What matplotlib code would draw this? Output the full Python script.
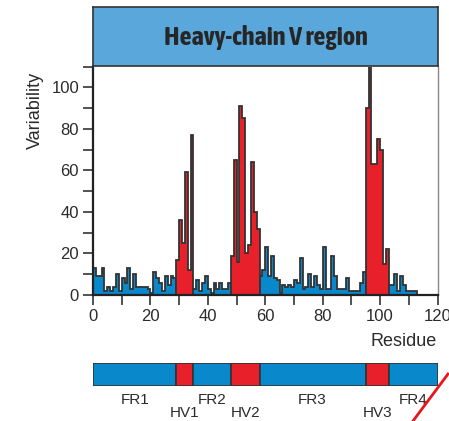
import matplotlib
matplotlib.use("Agg")
import matplotlib.pyplot as plt
from matplotlib import font_manager
import numpy as np
from matplotlib.lines import Line2D

# variability per residue (bins of width 1 starting at residue 0)
variability = [13, 9, 9, 13, 2, 4, 2, 4, 10, 2, 8, 6, 13, 3, 10, 4, 4, 4, 4, 3,
               1, 11, 8, 6, 2, 9, 5, 9, 8,
               17, 36, 25, 59, 12, 77,
               3, 7, 2, 6, 9, 3, 1, 6, 3, 6, 3, 3, 6,
               19, 65, 16, 91, 85, 20, 24, 64, 40, 32,
               9, 12, 23, 9, 19, 8, 7, 1, 5, 4, 5, 4, 7, 6, 18, 3, 4, 10, 4, 9,
               5, 3, 23, 3, 3, 19, 9, 3, 3, 3, 8, 2, 2, 2, 2, 6, 11,
               90, 110, 63, 63, 75, 70, 15, 22,
               5, 5, 10, 2, 9, 5, 2, 2, 2, 2]

segment_labels = ["FR1", "HV1", "FR2", "HV2", "FR3", "HV3", "FR4"]
segment_edges = [0, 29, 35, 48, 58, 95, 103, 120]

x_ticks = list(range(0, 121, 10))
x_labels = [str(t) if t % 20 == 0 else "" for t in x_ticks]
y_ticks = list(range(0, 111, 10))
y_labels = [str(t) if t % 20 == 0 and t <= 100 else "" for t in y_ticks]

BLUE = "#0a88cc"
RED = "#e8202a"
HEAD = "#5aa7dc"
EDGE = "#333333"
TXT = "#2b2b2b"

plt.rcParams["font.family"] = ["Liberation Sans", "DejaVu Sans"]

# condensed bold face for the title, if one is installed
bold_narrow = sorted({f.name for f in font_manager.fontManager.ttflist
                      if ("Narrow" in f.name or "Condensed" in f.name)
                      and (f.weight in ("bold", 700) or str(f.weight) == "700")})
if bold_narrow:
    title_family, title_size = [bold_narrow[0], "Liberation Sans"], 19
else:
    title_family, title_size = ["Liberation Sans", "DejaVu Sans"], 14.5

fig = plt.figure(figsize=(4.49, 4.21), dpi=100)

# main variability plot
ax = fig.add_axes([93 / 449, 126 / 421, 344.5 / 449, 228.5 / 421])
vals = np.array(variability, dtype=float)
edges = np.arange(len(vals) + 1)
for i in range(len(segment_labels)):
    a = segment_edges[i]
    b = min(segment_edges[i + 1], len(vals))
    if a >= b:
        continue
    color = RED if segment_labels[i].startswith("HV") else BLUE
    ax.stairs(vals[a:b], edges[a:b + 1], baseline=0, fill=True,
              facecolor=color, edgecolor=EDGE, linewidth=1.3, zorder=2)

ax.set_xlim(0, 120)
ax.set_ylim(0, 110)
ax.set_xticks(x_ticks)
ax.set_xticklabels(x_labels)
ax.set_yticks(y_ticks)
ax.set_yticklabels(y_labels)
ax.tick_params(length=7, width=1.2, color=EDGE, labelsize=12, labelcolor=TXT, pad=3)
ax.spines["top"].set_visible(False)
ax.spines["right"].set_color("#888888")
ax.spines["right"].set_linewidth(1.0)
for s in ["left", "bottom"]:
    ax.spines[s].set_color("#222222")
    ax.spines[s].set_linewidth(1.6)
ax.spines["bottom"].set_zorder(3)

fig.text(35 / 449, 1 - 110 / 421, "Variability", rotation=90, ha="center", va="center",
         fontsize=13, color=TXT)
fig.text(437 / 449, 1 - 341 / 421, "Residue", ha="right", va="center",
         fontsize=13, color=TXT)

# header box
hx = fig.add_axes([93 / 449, 355 / 421, 345 / 449, 59 / 421])
hx.set_facecolor(HEAD)
hx.set_xticks([])
hx.set_yticks([])
for s in hx.spines.values():
    s.set_color(EDGE)
    s.set_linewidth(1.2)
hx.text(0.5, 0.48, "Heavy-chain V region", ha="center", va="center",
        fontsize=title_size, fontweight="bold", family=title_family, color="#262626")

# region bar below
bx = fig.add_axes([93 / 449, 35 / 421, 344.5 / 449, 22.7 / 421])
for i, lab in enumerate(segment_labels):
    a, b = segment_edges[i], segment_edges[i + 1]
    color = RED if lab.startswith("HV") else BLUE
    bx.barh(0.5, b - a, left=a, height=1.0, color=color, edgecolor=EDGE, linewidth=1.2)
    yy = -1.19 if lab.startswith("HV") else -0.62
    bx.text((a + b) / 2, yy, lab, ha="center", va="center", fontsize=11,
            color=TXT, clip_on=False)
bx.set_xlim(0, 120)
bx.set_ylim(0, 1)
bx.axis("off")

# red diagonal stroke at the lower right corner
fig.add_artist(Line2D([448 / 449, 413 / 449], [1 - 374 / 421, 0.0],
                      transform=fig.transFigure, color="#e8161c", linewidth=2))

fig.savefig("out.png", dpi=100)
